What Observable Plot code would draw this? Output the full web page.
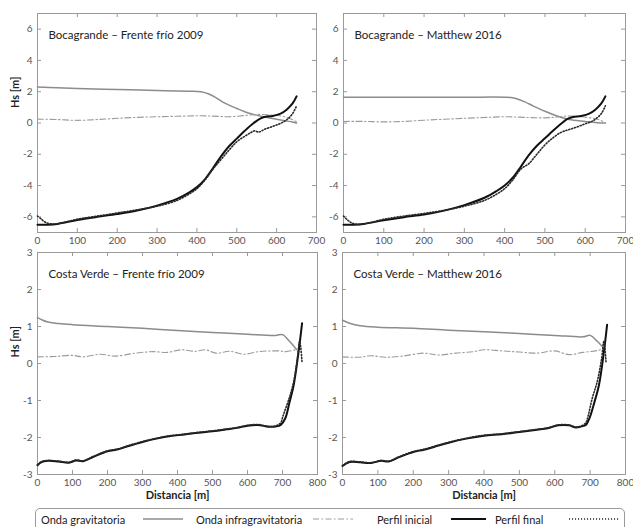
<!DOCTYPE html>
<html><head><meta charset="utf-8">
<script src="https://cdn.jsdelivr.net/npm/d3@7"></script>
<script src="https://cdn.jsdelivr.net/npm/@observablehq/plot@0.6"></script>
<style>
html,body{margin:0;padding:0;background:#fff;}
#root{position:relative;width:633px;height:527px;overflow:hidden;background:#fff;font-family:Lato,"Open Sans",sans-serif;}
.panel{position:absolute;width:320px;}
#legend{position:absolute;left:35px;top:508px;width:590px;height:30px;border:1px solid #9a9a9a;border-radius:5px;box-sizing:border-box;}
.lg{position:absolute;top:4px;font-size:11px;color:#222;white-space:nowrap;line-height:13px;}
.sw{position:absolute;top:4px;}
</style>
</head><body>
<div id="root"></div>
<script>
// ---------------- data ----------------
const xTicksTop = [0,100,200,300,400,500,600,700];
const yTicksTop = [-6,-4,-2,0,2,4,6];
const xTicksBot = [0,100,200,300,400,500,600,700,800];
const yTicksBot = [-3,-2,-1,0,1,2,3];
const panelTitles = ["Bocagrande – Frente frío 2009","Bocagrande – Matthew 2016","Costa Verde – Frente frío 2009","Costa Verde – Matthew 2016"];
const yLabel = "Hs [m]";
const xLabel = "Distancia [m]";
const legendLabels = ["Onda gravitatoria","Onda infragravitatoria","Perfil inicial","Perfil final"];

// Bocagrande – Frente frío 2009
const gravBF = [[0,2.3],[50,2.25],[100,2.2],[200,2.14],[300,2.08],[380,2.03],[410,2.0],[430,1.85],[450,1.58],[470,1.27],[500,0.93],[520,0.72],[540,0.56],[560,0.43],[580,0.33],[600,0.24],[620,0.15],[640,0.06],[650,0.0]];
const infraBF = [[0,0.25],[50,0.22],[100,0.17],[150,0.22],[200,0.3],[250,0.36],[300,0.4],[350,0.43],[400,0.46],[440,0.44],[480,0.4],[520,0.48],[550,0.55],[580,0.52],[610,0.45],[630,0.32],[650,0.08]];
const iniBF = [[0,-6.5],[25,-6.5],[50,-6.45],[100,-6.2],[150,-6.0],[200,-5.82],[250,-5.6],[300,-5.28],[350,-4.85],[380,-4.45],[400,-4.1],[420,-3.6],[440,-2.9],[460,-2.15],[480,-1.5],[500,-1.0],[520,-0.5],[540,-0.05],[560,0.3],[575,0.42],[590,0.45],[610,0.6],[625,0.85],[640,1.25],[650,1.7]];
const finBF = [[0,-5.95],[10,-6.15],[20,-6.35],[35,-6.45],[60,-6.4],[100,-6.15],[150,-5.95],[200,-5.75],[250,-5.55],[300,-5.32],[350,-4.95],[380,-4.55],[400,-4.2],[420,-3.65],[440,-2.95],[460,-2.35],[480,-1.75],[500,-1.2],[520,-0.85],[535,-0.62],[545,-0.5],[555,-0.58],[570,-0.4],[590,-0.22],[610,-0.02],[625,0.2],[640,0.6],[650,1.1]];

// Bocagrande – Matthew 2016
const gravBM = [[0,1.65],[100,1.65],[200,1.65],[300,1.65],[400,1.65],[415,1.63],[430,1.55],[450,1.35],[470,1.1],[500,0.75],[530,0.45],[560,0.22],[600,0.1],[630,0.02],[650,0.0]];
const infraBM = [[0,0.1],[50,0.1],[100,0.07],[150,0.1],[200,0.18],[250,0.24],[300,0.3],[350,0.35],[400,0.4],[450,0.36],[500,0.33],[530,0.38],[560,0.45],[590,0.4],[620,0.3],[635,0.2],[650,0.02]];
const iniBM = [[0,-6.5],[25,-6.5],[50,-6.45],[100,-6.22],[150,-6.02],[200,-5.85],[250,-5.6],[300,-5.25],[350,-4.78],[380,-4.35],[400,-4.0],[420,-3.5],[440,-2.8],[460,-2.05],[480,-1.45],[500,-0.98],[520,-0.5],[540,-0.05],[555,0.25],[570,0.38],[590,0.45],[610,0.6],[625,0.85],[640,1.25],[650,1.7]];
const finBM = [[0,-5.95],[10,-6.2],[20,-6.38],[35,-6.48],[60,-6.4],[100,-6.15],[150,-5.95],[200,-5.78],[250,-5.58],[300,-5.32],[350,-4.95],[380,-4.55],[400,-4.2],[420,-3.65],[440,-2.95],[460,-2.6],[480,-2.0],[500,-1.4],[520,-0.95],[540,-0.6],[560,-0.42],[580,-0.25],[600,-0.05],[620,0.15],[640,0.6],[650,1.1]];

// Costa Verde – Frente frío 2009
const gravCF = [[0,1.24],[15,1.17],[30,1.12],[60,1.08],[100,1.05],[200,1.0],[300,0.95],[400,0.89],[500,0.84],[600,0.79],[680,0.76],[700,0.78],[720,0.6],[740,0.38]];
const infraCF = [[0,0.18],[50,0.19],[100,0.22],[130,0.18],[180,0.25],[220,0.2],[280,0.28],[330,0.32],[370,0.3],[410,0.37],[450,0.33],[480,0.37],[510,0.28],[550,0.33],[590,0.25],[630,0.32],[690,0.34],[710,0.32],[740,0.38]];
const iniCF = [[0,-2.75],[10,-2.67],[30,-2.63],[60,-2.65],[90,-2.68],[110,-2.62],[130,-2.64],[160,-2.52],[200,-2.37],[230,-2.32],[260,-2.23],[300,-2.12],[340,-2.03],[380,-1.96],[420,-1.92],[460,-1.87],[500,-1.83],[540,-1.78],[570,-1.74],[600,-1.68],[630,-1.66],[660,-1.71],[680,-1.7],[695,-1.66],[708,-1.48],[720,-1.05],[732,-0.58],[746,0.32],[756,1.09]];
const finCF = [[0,-2.74],[10,-2.66],[30,-2.62],[60,-2.64],[90,-2.67],[110,-2.61],[130,-2.63],[160,-2.51],[200,-2.36],[230,-2.31],[260,-2.22],[300,-2.11],[340,-2.02],[380,-1.95],[420,-1.91],[460,-1.86],[500,-1.82],[540,-1.77],[570,-1.73],[600,-1.67],[630,-1.65],[660,-1.7],[680,-1.69],[695,-1.6],[701,-1.43],[719,-0.94],[732,-0.49],[742,0.1],[749,0.6],[756,0.02]];

// Costa Verde – Matthew 2016
const gravCM = [[0,1.17],[20,1.09],[50,1.02],[100,0.98],[200,0.95],[300,0.9],[400,0.86],[500,0.81],[600,0.76],[680,0.72],[700,0.76],[720,0.6],[740,0.4]];
const infraCM = [[0,0.18],[50,0.17],[80,0.21],[120,0.17],[170,0.2],[230,0.28],[270,0.23],[320,0.28],[370,0.32],[400,0.37],[450,0.34],[500,0.31],[550,0.28],[600,0.34],[640,0.24],[680,0.3],[720,0.35],[740,0.4]];
const iniCM = [[0,-2.77],[20,-2.66],[50,-2.67],[80,-2.69],[110,-2.63],[130,-2.65],[160,-2.53],[200,-2.39],[230,-2.33],[260,-2.25],[300,-2.14],[350,-2.03],[400,-1.95],[450,-1.91],[500,-1.85],[550,-1.79],[580,-1.75],[610,-1.67],[640,-1.67],[660,-1.73],[675,-1.7],[688,-1.66],[698,-1.48],[712,-1.05],[725,-0.58],[739,0.32],[748,1.05]];
const finCM = [[0,-2.76],[20,-2.65],[50,-2.66],[80,-2.68],[110,-2.62],[130,-2.64],[160,-2.52],[200,-2.38],[230,-2.32],[260,-2.24],[300,-2.13],[350,-2.02],[400,-1.94],[450,-1.9],[500,-1.84],[550,-1.78],[580,-1.74],[610,-1.66],[640,-1.66],[660,-1.72],[675,-1.69],[688,-1.6],[694,-1.43],[706,-0.94],[720,-0.49],[732,0.1],[739,0.6],[745,0.02]];

// ---------------- drawing ----------------
const root = document.getElementById("root");
const GRAV = "#8c8c8c", INFRA = "#9c9c9c", FRAME = "#9a9a9a", TXT = "#555";
const DOT = "1.1,1.9";

function panel(cfg){
  const {left, top, width, height, mL, mR, mT, mB, xDomain, yDomain, xTicks, yTicks,
         title, grav, infra, ini, fin, showY, showX, yLabDy} = cfg;
  const innerW = width - mL - mR, innerH = height - mT - mB;
  const marks = [
    Plot.frame({stroke: FRAME}),
    Plot.tickX(xTicks, {x: d => d, insetTop: innerH - 4, stroke: FRAME}),
    Plot.tickX(xTicks, {x: d => d, insetBottom: innerH - 4, stroke: FRAME}),
    Plot.tickY(yTicks, {y: d => d, insetRight: innerW - 4, stroke: FRAME}),
    Plot.tickY(yTicks, {y: d => d, insetLeft: innerW - 4, stroke: FRAME}),
    Plot.axisX({ticks: xTicks, tickSize: 0, tickPadding: 4, tickFormat: d => String(d), label: null, fill: TXT, fontSize: 10}),
    Plot.axisY({ticks: yTicks, tickSize: 0, tickPadding: 5, tickFormat: d => String(d), label: null, fill: TXT, fontSize: 10}),
    Plot.line(grav, {x: d => d[0], y: d => d[1], stroke: GRAV, strokeWidth: 1.5, curve: "catmull-rom"}),
    Plot.line(infra, {x: d => d[0], y: d => d[1], stroke: INFRA, strokeWidth: 1.1, strokeDasharray: "6,2.5,1.5,2.5", curve: "catmull-rom"}),
    Plot.line(ini, {x: d => d[0], y: d => d[1], stroke: "#111", strokeWidth: 2, curve: "catmull-rom"}),
    Plot.line(fin, {x: d => d[0], y: d => d[1], stroke: "#2a2a2a", strokeWidth: 1.6, strokeDasharray: DOT, curve: "catmull-rom"}),
    Plot.text([title], {text: d => d, frameAnchor: "top-left", dx: 11, dy: 17, fill: "#222", fontSize: 11.5, textAnchor: "start"})
  ];
  if (showY) marks.push(Plot.text([yLabel], {text: d => d, frameAnchor: "left", dx: -22, dy: yLabDy, rotate: -90, fill: "#222", fontSize: 11, fontWeight: "bold"}));
  if (showX) marks.push(Plot.text([xLabel], {text: d => d, frameAnchor: "bottom", dy: 24, fill: "#222", fontSize: 11, fontWeight: "bold"}));
  const p = Plot.plot({
    width, height, marginLeft: mL, marginRight: mR, marginTop: mT, marginBottom: mB,
    x: {domain: xDomain},
    y: {domain: yDomain},
    style: {background: "transparent", fontFamily: "Lato, 'Open Sans', sans-serif", overflow: "visible"},
    marks
  });
  const div = document.createElement("div");
  div.className = "panel";
  div.style.left = left + "px";
  div.style.top = top + "px";
  div.style.width = width + "px";
  div.appendChild(p);
  root.appendChild(div);
}

panel({left: 0, top: 0, width: 320, height: 250, mL: 37, mR: 4, mT: 13, mB: 18,
  xDomain: [0, 700], yDomain: [-7, 7], xTicks: xTicksTop, yTicks: yTicksTop,
  title: panelTitles[0], grav: gravBF, infra: infraBF, ini: iniBF, fin: finBF, showY: true, yLabDy: -15});
panel({left: 313, top: 0, width: 320, height: 250, mL: 30, mR: 8, mT: 13, mB: 18,
  xDomain: [0, 700], yDomain: [-7, 7], xTicks: xTicksTop, yTicks: yTicksTop,
  title: panelTitles[1], grav: gravBM, infra: infraBM, ini: iniBM, fin: finBM});
panel({left: 0, top: 247, width: 320, height: 262, mL: 37, mR: 3, mT: 5, mB: 35,
  xDomain: [0, 800], yDomain: [-3, 3], xTicks: xTicksBot, yTicks: yTicksBot,
  title: panelTitles[2], grav: gravCF, infra: infraCF, ini: iniCF, fin: finCF, showY: true, showX: true, yLabDy: -6});
panel({left: 313, top: 247, width: 320, height: 262, mL: 29, mR: 8, mT: 5, mB: 35,
  xDomain: [0, 800], yDomain: [-3, 3], xTicks: xTicksBot, yTicks: yTicksBot,
  title: panelTitles[3], grav: gravCM, infra: infraCM, ini: iniCM, fin: finCM, showX: true});

// legend
const legend = document.createElement("div");
legend.id = "legend";
root.appendChild(legend);
const items = [
  {label: legendLabels[0], tx: 5, sx: 107, sw: 40, stroke: GRAV, w: 1.5, dash: null},
  {label: legendLabels[1], tx: 160, sx: 277, sw: 40, stroke: INFRA, w: 1.1, dash: "6,2.5,1.5,2.5"},
  {label: legendLabels[2], tx: 341, sx: 415, sw: 35, stroke: "#111", w: 2.2, dash: null},
  {label: legendLabels[3], tx: 459, sx: 533, sw: 50, stroke: "#2a2a2a", w: 1.6, dash: DOT}
];
for (const it of items) {
  const t = document.createElement("span");
  t.className = "lg"; t.style.left = it.tx + "px"; t.textContent = it.label;
  legend.appendChild(t);
  const s = document.createElementNS("http://www.w3.org/2000/svg", "svg");
  s.setAttribute("width", it.sw); s.setAttribute("height", 12);
  s.setAttribute("class", "sw"); s.style.left = it.sx + "px";
  const l = document.createElementNS("http://www.w3.org/2000/svg", "line");
  l.setAttribute("x1", 0); l.setAttribute("x2", it.sw); l.setAttribute("y1", 6); l.setAttribute("y2", 6);
  l.setAttribute("stroke", it.stroke); l.setAttribute("stroke-width", it.w);
  if (it.dash) l.setAttribute("stroke-dasharray", it.dash);
  s.appendChild(l);
  legend.appendChild(s);
}
</script>
</body></html>
